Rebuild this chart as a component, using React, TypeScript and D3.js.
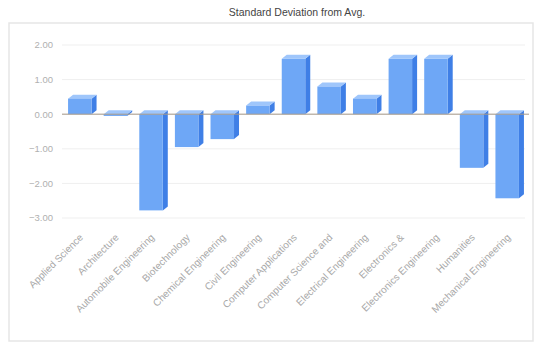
import React from "react";
import * as d3 from "d3";

const categories = [
  "Applied Science",
  "Architecture",
  "Automobile Engineering",
  "Biotechnology",
  "Chemical Engineering",
  "Civil Engineering",
  "Computer Applications",
  "Computer Science and",
  "Electrical Engineering",
  "Electronics &",
  "Electronics Engineering",
  "Humanities",
  "Mechanical Engineering",
];
const values = [0.45, -0.05, -2.78, -0.95, -0.72, 0.25, 1.6, 0.8, 0.45, 1.6, 1.6, -1.55, -2.43];
const yTicks = [2, 1, 0, -1, -2, -3];
const title = "Standard Deviation from Avg.";

const W = 539;
const H = 347;
const plot = { left: 62, right: 525, top: 45, bottom: 218 };
const DX = 5;
const DY = 4;

export default function App() {
  const x = d3
    .scaleBand<string>()
    .domain(categories)
    .range([plot.left, plot.right])
    .paddingInner(0.34)
    .paddingOuter(0.17);
  const y = d3.scaleLinear().domain([-3, 2]).range([plot.bottom, plot.top]);
  const fmt = d3.format(".2f");
  const bw = x.bandwidth();
  const y0 = y(0);

  return (
    <svg
      width={W}
      height={H}
      style={{ position: "absolute", left: 0, top: 0, background: "#fff" }}
      fontFamily="Arial, 'Liberation Sans', sans-serif"
    >
      <rect x={9} y={23} width={524} height={318} fill="none" stroke="#e6e6e6" strokeWidth={1.5} />
      <text x={297} y={16} textAnchor="middle" fontSize={10.5} fill="#444">
        {title}
      </text>
      {yTicks.map((t) => (
        <g key={t}>
          <line x1={plot.left} x2={plot.right} y1={y(t)} y2={y(t)} stroke="#efefef" strokeWidth={1} />
          <text x={53} y={y(t)} dy="0.35em" textAnchor="end" fontSize={9.5} fill="#b0b0b0">
            {fmt(t)}
          </text>
        </g>
      ))}
      {categories.map((c, i) => {
        const v = values[i];
        const x0 = x(c) as number;
        const yTop = Math.min(y(v), y0);
        const yBot = Math.max(y(v), y0);
        const top = `M${x0},${yTop} L${x0 + DX},${yTop - DY} L${x0 + bw + DX},${yTop - DY} L${x0 + bw},${yTop} Z`;
        const side = `M${x0 + bw},${yTop} L${x0 + bw + DX},${yTop - DY} L${x0 + bw + DX},${yBot - DY} L${x0 + bw},${yBot} Z`;
        return (
          <g key={c}>
            <path d={side} fill="#3f7fe6" />
            <path d={top} fill="#9fc6fb" />
            <rect x={x0} y={yTop} width={bw} height={yBot - yTop} fill="#6ea7f6" />
          </g>
        );
      })}
      <line x1={plot.left} x2={plot.right + 4} y1={y0} y2={y0} stroke="#a89c8c" strokeWidth={1} />
      {categories.map((c) => {
        const cx = (x(c) as number) + bw / 2 + 4;
        return (
          <text
            key={c}
            transform={`translate(${cx},${plot.bottom + 20}) rotate(-45)`}
            textAnchor="end"
            fontSize={10}
            fill="#a8a8a8"
          >
            {c}
          </text>
        );
      })}
    </svg>
  );
}
